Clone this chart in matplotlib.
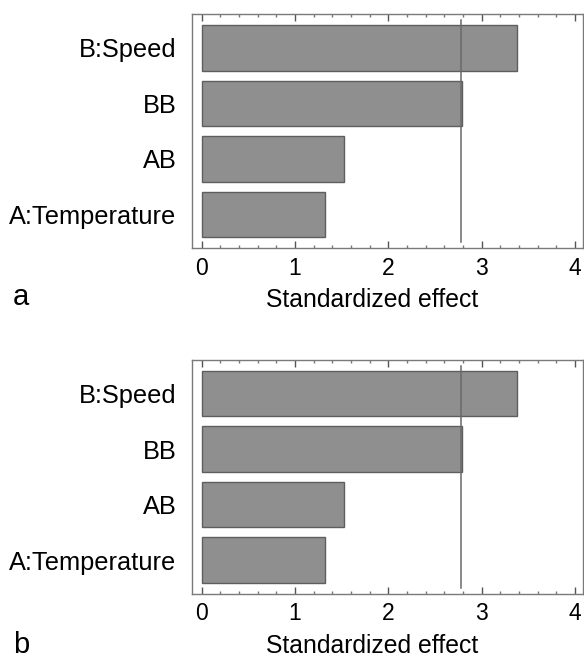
import matplotlib
matplotlib.use("Agg")
import matplotlib.pyplot as plt
from matplotlib.ticker import MultipleLocator

plt.rcParams['font.family'] = ['Liberation Sans', 'DejaVu Sans']

# Pareto chart data (same for both panels)
terms = ['A:Temperature', 'AB', 'BB', 'B:Speed']
effects_a = [1.325, 1.525, 2.79, 3.38]
effects_b = [1.325, 1.525, 2.79, 3.38]
t_crit = 2.776
panel_names = ['a', 'b']

fig = plt.figure(figsize=(5.84, 6.59), dpi=100)

# axes positions in figure fractions (left, bottom, width, height)
boxes = [(0.3283, 0.6232, 0.6705, 0.3555),
         (0.3283, 0.0985, 0.6705, 0.3555)]
letter_y = [0.537, 0.009]

for box, effects, name, ly in zip(boxes, [effects_a, effects_b], panel_names, letter_y):
    ax = fig.add_axes(box)
    ypos = list(range(len(terms)))
    ax.barh(ypos, effects, height=0.82, left=0, color='#8f8f8f',
            edgecolor='#5e5e5e', linewidth=1.0)
    ax.plot([t_crit, t_crit], [-0.5, 3.5], color='#6a6a6a', linewidth=1.1)

    ax.set_xlim(-0.107, 4.09)
    ax.set_ylim(-0.61, 3.61)
    ax.set_yticks(ypos)
    ax.set_yticklabels(terms, fontsize=18.3)
    ax.tick_params(axis='y', length=0, pad=11)

    ax.xaxis.set_major_locator(MultipleLocator(1))
    ax.xaxis.set_minor_locator(MultipleLocator(0.2))
    ax.tick_params(axis='x', which='major', direction='in', top=True,
                   length=5, width=1, color='#555555', labelsize=16.5, pad=6)
    ax.tick_params(axis='x', which='minor', direction='in', top=True,
                   length=2.5, width=1, color='#777777')
    ax.set_xticks([0, 1, 2, 3, 4])

    for s in ax.spines.values():
        s.set_color('#7a7a7a')
        s.set_linewidth(1.0)

    ax.set_xlabel('Standardized effect', fontsize=17.8)
    ax.xaxis.set_label_coords(0.46, -0.17)

    fig.text(13 / 584, ly, name, fontsize=21, ha='left', va='baseline')

plt.savefig('out.png', dpi=100)
